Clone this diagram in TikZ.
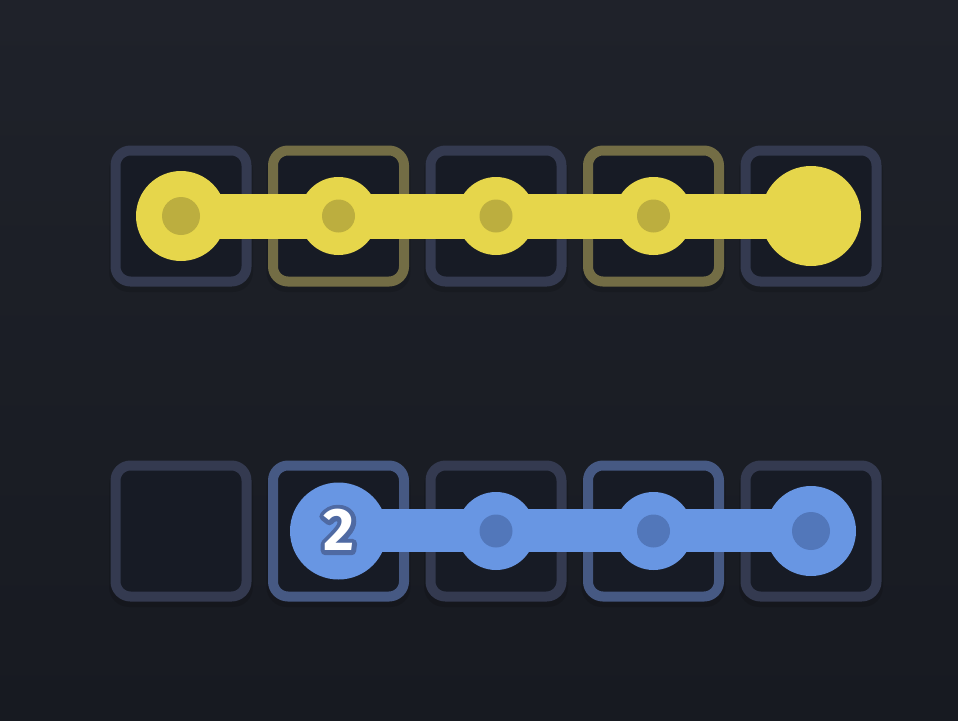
\documentclass[tikz,border=0pt]{standalone}
\usepackage{fontspec}
\newfontfamily\numfont{Fira Sans}
\definecolor{bgtop}{HTML}{1F222A}
\definecolor{bgbot}{HTML}{171A21}
\definecolor{cellfill}{HTML}{171B25}
\definecolor{celledge}{HTML}{343A50}
\definecolor{yedge}{HTML}{736D45}
\definecolor{bedge}{HTML}{465983}
\definecolor{yel}{HTML}{E6D64B}
\definecolor{yeldot}{HTML}{BCAE3F}
\definecolor{blu}{HTML}{6896E3}
\definecolor{bludot}{HTML}{5277BA}
\definecolor{numedge}{HTML}{4F6AA3}
\tikzset{
  cellbox/.style={rectangle, rounded corners=15pt, minimum size=131pt, inner sep=0pt,
    line width=10pt, fill=cellfill, draw=celledge},
  disc/.style={circle, inner sep=0pt, minimum size=#1, draw=none},
  pipe/.style={line width=#1, line cap=butt},
  numtext/.style={inner sep=0pt, font=\numfont\bfseries\fontsize{60}{60}\selectfont},
}
\begin{document}
\begin{tikzpicture}[x=1pt,y=-1pt]
\useasboundingbox (0,0) rectangle (958,720);
\fill[top color=bgtop, bottom color=bgbot] (0,0) rectangle (958,720);
% cell shadows
\foreach \x in {181,338.5,496,653.5,811}{
  \fill[black, opacity=0.12, rounded corners=20pt] (\x-72,216-66) rectangle (\x+72,216+76);
  \fill[black, opacity=0.12, rounded corners=20pt] (\x-72,531-66) rectangle (\x+72,531+76);
}
% cells
\node[cellbox] (t1) at (181,216) {};
\node[cellbox, draw=yedge] (t2) at (338.5,216) {};
\node[cellbox] (t3) at (496,216) {};
\node[cellbox, draw=yedge] (t4) at (653.5,216) {};
\node[cellbox] (t5) at (811,216) {};
\node[cellbox] (b1) at (181,531) {};
\node[cellbox, draw=bedge] (b2) at (338.5,531) {};
\node[cellbox] (b3) at (496,531) {};
\node[cellbox, draw=bedge] (b4) at (653.5,531) {};
\node[cellbox] (b5) at (811,531) {};
% yellow path
\draw[pipe=45pt, yel] (t1.center) -- (t5.center);
\node[disc=90pt, fill=yel] (ty1) at (t1.center) {};
\node[disc=78pt, fill=yel] (ty2) at (t2.center) {};
\node[disc=78pt, fill=yel] (ty3) at (t3.center) {};
\node[disc=78pt, fill=yel] (ty4) at (t4.center) {};
\node[disc=100pt, fill=yel] (ty5) at (t5.center) {};
\node[disc=38pt, fill=yeldot] (tyd1) at (t1.center) {};
\node[disc=33pt, fill=yeldot] (tyd2) at (t2.center) {};
\node[disc=33pt, fill=yeldot] (tyd3) at (t3.center) {};
\node[disc=33pt, fill=yeldot] (tyd4) at (t4.center) {};
% blue path
\coordinate (bl) at (338.5,530);
\coordinate (br) at (811,530);
\draw[pipe=43pt, blu] (bl) -- (br);
\node[disc=97pt, fill=blu] (by2) at (338.5,531) {};
\node[disc=78pt, fill=blu] (by3) at (496,531) {};
\node[disc=78pt, fill=blu] (by4) at (653.5,531) {};
\node[disc=90pt, fill=blu] (by5) at (811,531) {};
\node[disc=33pt, fill=bludot] (byd3) at (496,531) {};
\node[disc=33pt, fill=bludot] (byd4) at (653.5,531) {};
\node[disc=38pt, fill=bludot] (byd5) at (811,531) {};
% number 2 with outline (stroked copy under white fill)
\node[numtext, text=numedge] (numedge) at (339,530)
  {\special{pdf:literal direct 1 Tr 9 w 1 j 0.31 0.416 0.639 RG}2\special{pdf:literal direct 0 Tr}};
\node[numtext, text=white] (num) at (339,530) {2};
\end{tikzpicture}
\end{document}
